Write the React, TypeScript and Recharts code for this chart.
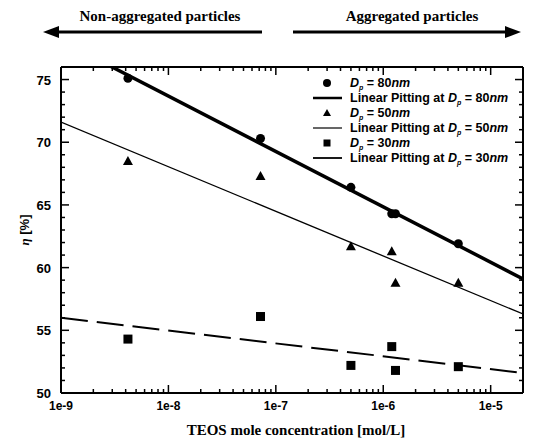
import { ComposedChart, Scatter, XAxis, YAxis } from "recharts";

// measured points (TEOS concentration in mol/L, efficiency in %)
const concentrations = [4.2e-9, 7.2e-8, 5e-7, 1.2e-6, 1.3e-6, 5e-6];
const eta80 = [75.1, 70.3, 66.4, 64.3, 64.3, 61.9];
const eta50 = [68.5, 67.3, 61.7, 61.3, 58.8, 58.8];
const eta30 = [54.3, 56.1, 52.2, 53.7, 51.8, 52.1];

// fitted lines, read at both ends of the axis
const fitConc = [1e-9, 2e-5];
const fit80 = [78.1, 59.1];
const fit50 = [71.6, 56.3];
const fit30 = [56.0, 51.6];

const xMajorTicks = [1e-9, 1e-8, 1e-7, 1e-6, 1e-5];
const minorSteps = [2, 3, 4, 5, 6, 7, 8, 9];
const xTicks = [
  ...xMajorTicks,
  ...xMajorTicks.flatMap((d) => minorSteps.map((m) => d * m)).filter((v) => v < 2e-5),
];
const yTicks = [50, 51, 52, 53, 54, 55, 56, 57, 58, 59, 60, 61, 62, 63, 64, 65, 66, 67, 68, 69, 70, 71, 72, 73, 74, 75];

const toPoints = (xs: number[], ys: number[]) => xs.map((x, i) => ({ x, y: ys[i] }));

const sans = "'Liberation Sans', Arial, sans-serif";
const serif = "'Liberation Serif', 'Times New Roman', serif";

const isMajorX = (v: number) => {
  const l = Math.log10(v);
  return Math.abs(l - Math.round(l)) < 1e-6;
};

function BottomTick(props: any) {
  const { x, y, payload } = props;
  const major = isMajorX(payload.value);
  return (
    <g>
      <line x1={x} x2={x} y1={y} y2={y - (major ? 8 : 4)} stroke="#000" strokeWidth={1.5} />
      {major && (
        <text x={x} y={y + 17} textAnchor="middle" fontFamily={sans} fontWeight="bold" fontSize={12} fill="#000">
          {payload.value.toExponential(0)}
        </text>
      )}
    </g>
  );
}

function TopTick(props: any) {
  const { x, y, payload } = props;
  const major = isMajorX(payload.value);
  return <line x1={x} x2={x} y1={y} y2={y + (major ? 8 : 4)} stroke="#000" strokeWidth={1.5} />;
}

function LeftTick(props: any) {
  const { x, y, payload } = props;
  const major = payload.value % 5 === 0;
  return (
    <g>
      <line x1={x} x2={x + (major ? 8 : 4)} y1={y} y2={y} stroke="#000" strokeWidth={1.5} />
      {major && (
        <text x={x - 10} y={y + 5} textAnchor="end" fontFamily={sans} fontWeight="bold" fontSize={13} fill="#000">
          {payload.value}
        </text>
      )}
    </g>
  );
}

function RightTick(props: any) {
  const { x, y, payload } = props;
  const major = payload.value % 5 === 0;
  return <line x1={x} x2={x - (major ? 8 : 4)} y1={y} y2={y} stroke="#000" strokeWidth={1.5} />;
}

const Dot = (p: any) => <circle cx={p.cx} cy={p.cy} r={4.5} fill="#000" />;
const Tri = (p: any) => (
  <polygon points={`${p.cx},${p.cy - 5} ${p.cx - 5},${p.cy + 4} ${p.cx + 5},${p.cy + 4}`} fill="#000" />
);
const Sq = (p: any) => <rect x={p.cx - 4.5} y={p.cy - 4.5} width={9} height={9} fill="#000" />;
const NoShape = () => <g />;

function LegendLabel({ y, prefix, size }: { y: number; prefix?: string; size: string }) {
  return (
    <text x={350} y={y + 4} fontFamily={sans} fontWeight="bold" fontSize={12.5} fill="#000">
      {prefix}
      <tspan fontStyle="italic">D</tspan>
      <tspan fontStyle="italic" fontSize={7} dy={3}>p</tspan>
      <tspan dy={-3}>{" = " + size}</tspan>
      <tspan fontStyle="italic">nm</tspan>
    </text>
  );
}

const axisLine = { stroke: "#000", strokeWidth: 2 };

export default function App() {
  return (
    <div style={{ position: "absolute", left: 0, top: 0, width: 536, height: 443, background: "#fff" }}>
      <ComposedChart width={536} height={443} margin={{ top: 66, right: 12, bottom: 49, left: 60 }}>
        <XAxis
          xAxisId="b"
          type="number"
          dataKey="x"
          scale="log"
          domain={[1e-9, 2e-5]}
          allowDataOverflow
          ticks={xTicks}
          interval={0}
          height={1}
          tickSize={0}
          tickMargin={0}
          tickLine={false}
          axisLine={axisLine}
          tick={BottomTick}
        />
        <XAxis
          xAxisId="t"
          orientation="top"
          type="number"
          dataKey="x"
          scale="log"
          domain={[1e-9, 2e-5]}
          allowDataOverflow
          ticks={xTicks}
          interval={0}
          height={1}
          tickSize={0}
          tickMargin={0}
          tickLine={false}
          axisLine={axisLine}
          tick={TopTick}
        />
        <YAxis
          yAxisId="l"
          type="number"
          dataKey="y"
          domain={[50, 76]}
          allowDataOverflow
          ticks={yTicks}
          interval={0}
          width={1}
          tickSize={0}
          tickMargin={0}
          tickLine={false}
          axisLine={axisLine}
          tick={LeftTick}
        />
        <YAxis
          yAxisId="r"
          orientation="right"
          type="number"
          dataKey="y"
          domain={[50, 76]}
          allowDataOverflow
          ticks={yTicks}
          interval={0}
          width={1}
          tickSize={0}
          tickMargin={0}
          tickLine={false}
          axisLine={axisLine}
          tick={RightTick}
        />
        <Scatter xAxisId="b" yAxisId="l" data={toPoints(fitConc, fit80)} line={{ stroke: "#000", strokeWidth: 3.5 }} shape={NoShape} isAnimationActive={false} />
        <Scatter xAxisId="b" yAxisId="l" data={toPoints(fitConc, fit50)} line={{ stroke: "#000", strokeWidth: 1.3 }} shape={NoShape} isAnimationActive={false} />
        <Scatter xAxisId="b" yAxisId="l" data={toPoints(fitConc, fit30)} line={{ stroke: "#000", strokeWidth: 2, strokeDasharray: "27 9" }} shape={NoShape} isAnimationActive={false} />
        <Scatter xAxisId="b" yAxisId="l" data={toPoints(concentrations, eta80)} shape={Dot} isAnimationActive={false} />
        <Scatter xAxisId="b" yAxisId="l" data={toPoints(concentrations, eta50)} shape={Tri} isAnimationActive={false} />
        <Scatter xAxisId="b" yAxisId="l" data={toPoints(concentrations, eta30)} shape={Sq} isAnimationActive={false} />
      </ComposedChart>

      <svg width={536} height={443} style={{ position: "absolute", left: 0, top: 0, pointerEvents: "none" }}>
        {/* region arrows */}
        <text x={160} y={21} textAnchor="middle" fontFamily={serif} fontWeight="bold" fontSize={15} fill="#000">
          Non-aggregated particles
        </text>
        <line x1={56} x2={262} y1={32} y2={32} stroke="#000" strokeWidth={3} />
        <polygon points="43,32 59,26 59,38" fill="#000" />
        <text x={412} y={21} textAnchor="middle" fontFamily={serif} fontWeight="bold" fontSize={15} fill="#000">
          Aggregated particles
        </text>
        <line x1={293} x2={508} y1={32} y2={32} stroke="#000" strokeWidth={3} />
        <polygon points="521,32 505,26 505,38" fill="#000" />

        {/* axis titles */}
        <text x={296} y={435} textAnchor="middle" fontFamily={serif} fontWeight="bold" fontSize={15} fill="#000">
          TEOS mole concentration [mol/L]
        </text>
        <text transform="translate(29,230) rotate(-90)" textAnchor="middle" fontFamily={sans} fontWeight="bold" fontSize={13} fill="#000">
          <tspan fontStyle="italic" fontFamily={serif}>η</tspan> [%]
        </text>

        {/* legend */}
        <circle cx={327} cy={83} r={4} fill="#000" />
        <LegendLabel y={83} size="80" />
        <line x1={313} x2={342} y1={98} y2={98} stroke="#000" strokeWidth={2.5} />
        <LegendLabel y={98} prefix="Linear Pitting at " size="80" />
        <polygon points="327,109 323,116 331,116" fill="#000" />
        <LegendLabel y={113} size="50" />
        <line x1={313} x2={342} y1={128} y2={128} stroke="#000" strokeWidth={1.2} />
        <LegendLabel y={128} prefix="Linear Pitting at " size="50" />
        <rect x={323.5} y={139.5} width={7} height={7} fill="#000" />
        <LegendLabel y={143} size="30" />
        <line x1={313} x2={342} y1={158} y2={158} stroke="#000" strokeWidth={1.8} />
        <LegendLabel y={158} prefix="Linear Pitting at " size="30" />
      </svg>
    </div>
  );
}
